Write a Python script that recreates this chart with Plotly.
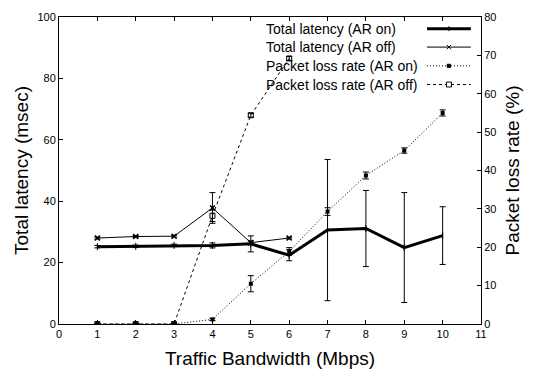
import plotly.graph_objects as go

bandwidth = [1, 2, 3, 4, 5, 6, 7, 8, 9, 10]
lat_on = [25.2, 25.3, 25.6, 25.6, 26.1, 22.4, 30.6, 31.1, 24.9, 28.8]
lat_on_err = [0.4, 0.4, 0.4, 0.8, 2.6, 1.8, 23.0, 12.4, 17.9, 9.4]

bandwidth_off = [1, 2, 3, 4, 5, 6]
lat_off = [28.0, 28.5, 28.6, 37.8, 26.5, 28.0]
lat_off_err = [0.3, 0.3, 0.3, 5.0, 0.5, 0.3]

loss_on = [0.0, 0.0, 0.0, 1.2, 10.5, 18.9, 29.3, 38.7, 45.2, 55.0]
loss_on_err = [0.0, 0.0, 0.0, 0.3, 2.1, 1.0, 1.0, 0.9, 0.7, 0.8]

loss_off = [0.0, 0.0, 0.0, 28.2, 54.4, 69.2]
loss_off_err = [0.0, 0.0, 0.0, 1.5, 0.5, 0.5]

legend_names = ["Total latency (AR on)", "Total latency (AR off)",
                "Packet loss rate (AR on)", "Packet loss rate (AR off)"]

FONT = "Liberation Sans, Arial, sans-serif"
DOT = "1px,2px"
DASH = "3px,3px"
fig = go.Figure()

eb = lambda arr: dict(type="data", array=arr, visible=True, color="black", thickness=1, width=3)

fig.add_trace(go.Scatter(x=bandwidth, y=lat_on, mode="lines+markers",
                         line=dict(color="black", width=3),
                         marker=dict(symbol="line-ns-open", size=5, line=dict(width=1, color="black")),
                         error_y=eb(lat_on_err), yaxis="y", showlegend=False))
fig.add_trace(go.Scatter(x=bandwidth_off, y=lat_off, mode="lines+markers",
                         line=dict(color="black", width=1),
                         marker=dict(symbol="x-thin-open", size=5, line=dict(width=1.5, color="black")),
                         error_y=eb(lat_off_err), yaxis="y", showlegend=False))
fig.add_trace(go.Scatter(x=bandwidth, y=loss_on, mode="lines+markers",
                         line=dict(color="black", width=1, dash=DOT),
                         marker=dict(symbol="square", size=4, color="black"),
                         error_y=eb(loss_on_err), yaxis="y2", showlegend=False))
fig.add_trace(go.Scatter(x=bandwidth_off, y=loss_off, mode="lines+markers",
                         line=dict(color="black", width=1, dash=DASH),
                         marker=dict(symbol="square-open", size=5, color="black", line=dict(width=1, color="black")),
                         error_y=eb(loss_off_err), yaxis="y2", showlegend=False))

# custom legend (text on the left, sample on the right)
rows = [0.962, 0.902, 0.841, 0.780]
shapes = []
annotations = []
styles = [dict(width=3, dash="solid"), dict(width=1, dash="solid"),
          dict(width=1, dash=DOT), dict(width=1, dash=DASH)]
for name, yy, st in zip(legend_names, rows, styles):
    annotations.append(dict(x=0.485, y=yy, xref="paper", yref="paper", text=name,
                            showarrow=False, xanchor="left", yanchor="middle",
                            font=dict(family=FONT, size=14, color="black")))
    shapes.append(dict(type="line", xref="paper", yref="paper", x0=0.872, x1=0.976, y0=yy, y1=yy,
                       line=dict(color="black", **st)))
# legend markers
mx = 0.924
shapes.append(dict(type="line", xref="paper", yref="paper", x0=mx, x1=mx, y0=rows[0]-0.008, y1=rows[0]+0.008,
                   line=dict(color="black", width=1)))
dx, dy = 0.005, 0.007
shapes.append(dict(type="line", xref="paper", yref="paper", x0=mx-dx, x1=mx+dx, y0=rows[1]-dy, y1=rows[1]+dy,
                   line=dict(color="black", width=1)))
shapes.append(dict(type="line", xref="paper", yref="paper", x0=mx-dx, x1=mx+dx, y0=rows[1]+dy, y1=rows[1]-dy,
                   line=dict(color="black", width=1)))
shapes.append(dict(type="rect", xref="paper", yref="paper", x0=mx-0.004, x1=mx+0.004, y0=rows[2]-0.005, y1=rows[2]+0.005,
                   line=dict(color="black", width=1), fillcolor="black"))
shapes.append(dict(type="rect", xref="paper", yref="paper", x0=mx-0.006, x1=mx+0.006, y0=rows[3]-0.008, y1=rows[3]+0.008,
                   line=dict(color="black", width=1), fillcolor="white"))

axis_common = dict(showgrid=False, zeroline=False, showline=True, linecolor="black", linewidth=1,
                   ticks="inside", ticklen=4, tickcolor="black",
                   tickfont=dict(family=FONT, size=11, color="black"))

fig.update_layout(
    width=534, height=379,
    margin=dict(l=59, r=53, t=11, b=55),
    paper_bgcolor="white", plot_bgcolor="white",
    font=dict(family=FONT, color="black"),
    xaxis=dict(range=[0, 11], dtick=1, tick0=0, mirror="ticks",
               title=dict(text="Traffic Bandwidth (Mbps)", font=dict(family=FONT, size=19), standoff=12),
               **axis_common),
    yaxis=dict(range=[0, 100], dtick=20, tick0=0,
               title=dict(text="Total latency (msec)", font=dict(family=FONT, size=19), standoff=3),
               **axis_common),
    yaxis2=dict(range=[0, 80], dtick=10, tick0=0, overlaying="y", side="right",
                title=dict(text="Packet loss rate (%)", font=dict(family=FONT, size=19), standoff=10),
                **axis_common),
    shapes=shapes, annotations=annotations, showlegend=False,
)

fig.write_html("out.html")
